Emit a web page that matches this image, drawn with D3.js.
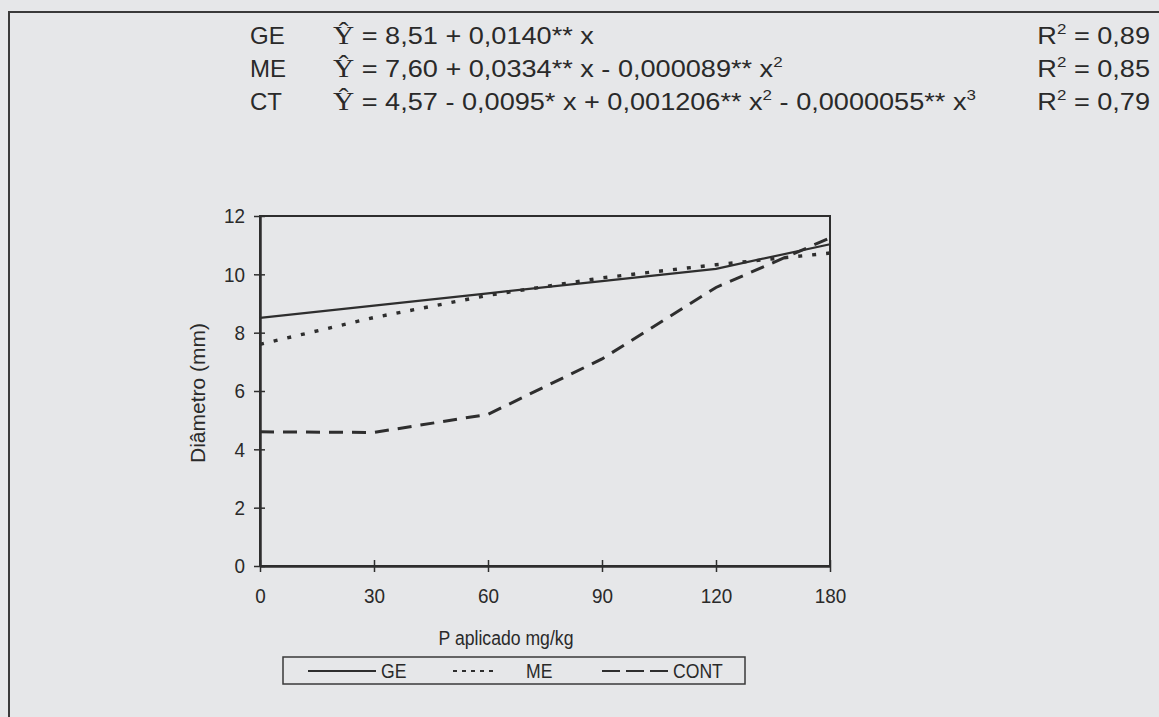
<!DOCTYPE html>
<html><head><meta charset="utf-8">
<script src="https://cdn.jsdelivr.net/npm/d3@7"></script>
<style>
html,body{margin:0;padding:0;background:#e6e7e9;}
svg{display:block;}
text{font-family:"Liberation Sans",Arial,sans-serif;fill:#2a2a2a;}
</style></head>
<body>
<svg id="chart" width="1159" height="717"></svg>
<script>
// ---- data ----
const categories = ["0","30","60","90","120","180"];
const geValues = [8.51, 8.93, 9.35, 9.77, 10.19, 11.03];
const meValues = [7.60, 8.52, 9.28, 9.88, 10.33, 10.73];
const ctValues = [4.60, 4.58, 5.20, 7.10, 9.55, 11.25];
const yTicks = [0, 2, 4, 6, 8, 10, 12];
const seriesNames = ["GE", "ME", "CONT"];
const eqLabels = ["GE", "ME", "CT"];
// equation pieces: [text, superscript] pairs
const eqParts = [
  [[" = 8,51 + 0,0140** x", null]],
  [[" = 7,60 + 0,0334** x - 0,000089** x", "2"]],
  [[" = 4,57 - 0,0095* x + 0,001206** x", "2"], [" - 0,0000055** x", "3"]]
];
const r2Values = ["0,89", "0,85", "0,79"];
const xTitle = "P aplicado mg/kg";
const yTitle = "Diâmetro (mm)";

// ---- layout ----
const svg = d3.select("#chart");
const ink = "#2e2e2e";
const plot = {left: 260, right: 830, top: 216, bottom: 566};

// outer frame
svg.append("rect").attr("x", 9).attr("y", 12).attr("width", 1170).attr("height", 720)
  .attr("fill", "none").attr("stroke", "#3a3a3a").attr("stroke-width", 2);

// header equations
const rowY = [44, 77, 110];
const hs = 1.13;
eqLabels.forEach((lab, i) => {
  svg.append("text").attr("x", 250).attr("y", rowY[i]).attr("font-size", 24).text(lab);
  const t = svg.append("text").attr("transform", `translate(333,${rowY[i]}) scale(${hs},1)`).attr("font-size", 24);
  t.append("tspan").attr("font-family", "'Liberation Serif','Times New Roman',serif").attr("font-size", 26).text("Ŷ");
  let lift = 0;
  eqParts[i].forEach(([s, sup]) => {
    const p = t.append("tspan").text(s);
    if (lift) { p.attr("dy", lift); lift = 0; }
    if (sup) {
      t.append("tspan").attr("dy", -10).attr("font-size", 15).text(sup);
      lift = 10;
    }
  });
  const r = svg.append("text").attr("transform", `translate(1150,${rowY[i]}) scale(${hs},1)`)
    .attr("font-size", 24).attr("text-anchor", "end");
  r.append("tspan").text("R");
  r.append("tspan").attr("dy", -10).attr("font-size", 15).text("2");
  r.append("tspan").attr("dy", 10).text(" = " + r2Values[i]);
});

// scales
const x = d3.scalePoint().domain(categories).range([plot.left, plot.right]).padding(0);
const y = d3.scaleLinear().domain([0, 12]).range([plot.bottom, plot.top]);

// plot box (top/right)
svg.append("rect").attr("x", plot.left).attr("y", plot.top)
  .attr("width", plot.right - plot.left).attr("height", plot.bottom - plot.top)
  .attr("fill", "none").attr("stroke", ink).attr("stroke-width", 2);

// axes
const ls = 0.9;
const yAxis = d3.axisLeft(y).tickValues(yTicks).tickSize(6).tickPadding(10).tickSizeOuter(0);
const gy = svg.append("g").attr("transform", `translate(${plot.left},0)`).call(yAxis);
gy.select(".domain").attr("stroke", ink).attr("stroke-width", 2.5);
gy.selectAll(".tick line").attr("stroke", ink).attr("stroke-width", 1.5).attr("x2", 5).attr("x1", -6);
gy.selectAll(".tick text").attr("font-size", 21).attr("fill", "#2a2a2a")
  .attr("font-family", "Liberation Sans, Arial, sans-serif")
  .attr("x", -15 / ls).attr("transform", `scale(${ls},1)`);

const xAxis = d3.axisBottom(x).tickSize(6).tickPadding(16).tickSizeOuter(0);
const gx = svg.append("g").attr("transform", `translate(0,${plot.bottom})`).call(xAxis);
gx.select(".domain").attr("stroke", ink).attr("stroke-width", 2.5);
gx.selectAll(".tick line").attr("stroke", ink).attr("stroke-width", 1.5).attr("y1", -6).attr("y2", 6);
gx.selectAll(".tick text").attr("font-size", 21).attr("fill", "#2a2a2a")
  .attr("font-family", "Liberation Sans, Arial, sans-serif")
  .attr("transform", `scale(${ls},1)`);

// axis titles
svg.append("text").attr("transform", "translate(506,645) scale(0.84,1)").attr("text-anchor", "middle")
  .attr("font-size", 21).text(xTitle);
svg.append("text").attr("transform", "translate(205,393) rotate(-90)").attr("text-anchor", "middle")
  .attr("font-size", 21).text(yTitle);

// lines
const line = d3.line().x((d, i) => x(categories[i])).y(d => y(d));
const styles = [
  {data: geValues, dash: null, w: 2.2},
  {data: meValues, dash: "4,10", w: 3.4},
  {data: ctValues, dash: "14,9", w: 3}
];
styles.forEach(s => {
  svg.append("path").datum(s.data).attr("d", line).attr("fill", "none")
    .attr("stroke", ink).attr("stroke-width", s.w)
    .attr("stroke-dasharray", s.dash);
});

// legend
const lg = svg.append("g");
lg.append("rect").attr("x", 283).attr("y", 657).attr("width", 462).attr("height", 27)
  .attr("fill", "none").attr("stroke", "#3a3a3a").attr("stroke-width", 1.5);
const legItems = [
  {x1: 308, x2: 376, tx: 381, dash: null, w: 2},
  {x1: 453, x2: 495, tx: 526, dash: "4,5", w: 2},
  {x1: 602, x2: 668, tx: 673, dash: "18,6", w: 2.2}
];
legItems.forEach((it, i) => {
  lg.append("line").attr("x1", it.x1).attr("x2", it.x2).attr("y1", 671).attr("y2", 671)
    .attr("stroke", ink).attr("stroke-width", it.w).attr("stroke-dasharray", it.dash);
  lg.append("text").attr("transform", `translate(${it.tx},678) scale(0.88,1)`)
    .attr("font-size", 20).text(seriesNames[i]);
});
</script>
</body></html>
